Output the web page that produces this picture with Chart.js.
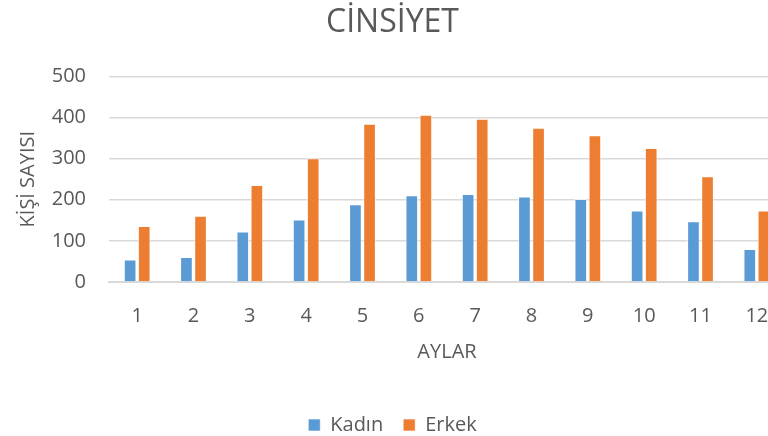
<!DOCTYPE html>
<html><head><meta charset="utf-8">
<script src="https://cdn.jsdelivr.net/npm/chart.js@4/dist/chart.umd.min.js"></script>
<style>
html,body{margin:0;padding:0;background:#fff;overflow:hidden}
#wrap{width:768px;height:436px;overflow:hidden;position:relative}
#box{width:800px;height:445px;position:absolute;left:0;top:0}
</style></head>
<body><div id="wrap"><div id="box"><canvas id="c"></canvas></div></div>
<script>
const months = ["1","2","3","4","5","6","7","8","9","10","11","12"];
const kadin = [55, 61, 123, 152, 189, 211, 214, 208, 202, 174, 148, 80];
const erkek = [136, 161, 236, 301, 385, 407, 397, 375, 357, 326, 257, 174];
const yTicks = [0, 100, 200, 300, 400, 500];
const FONT = "'Open Sans', 'Liberation Sans', sans-serif";
const grey = '#595959';
new Chart(document.getElementById('c'), {
  type: 'bar',
  data: {
    labels: months,
    datasets: [
      {label: 'Kadın', data: kadin, backgroundColor: '#5B9BD5', borderColor: 'rgba(255,255,255,0.6)', borderWidth: 1, categoryPercentage: 0.5, barPercentage: 0.9},
      {label: 'Erkek', data: erkek, backgroundColor: '#ED7D31', borderColor: 'rgba(255,255,255,0.6)', borderWidth: 1, categoryPercentage: 0.5, barPercentage: 0.9}
    ]
  },
  options: {
    responsive: true, maintainAspectRatio: false, animation: false,
    layout: {padding: {left: 0, right: 15, top: 4, bottom: 0}},
    plugins: {
      title: {display: true, text: 'CİNSİYET', color: grey, font: {family: FONT, size: 32, weight: 'normal'}, padding: {top: 0, bottom: 34}},
      legend: {position: 'bottom', labels: {color: grey, font: {family: FONT, size: 20}, boxWidth: 12, boxHeight: 12, padding: 20}},
      tooltip: {enabled: false}
    },
    scales: {
      x: {
        grid: {display: false, drawTicks: false},
        border: {display: true, color: '#d9d9d9', width: 2},
        ticks: {color: grey, font: {family: FONT, size: 20}, padding: 22},
        title: {display: true, text: 'AYLAR', color: grey, font: {family: FONT, size: 20}, padding: {top: 0, bottom: 31}},
        afterFit(s){ s.height = 113; }
      },
      y: {
        min: 0, max: 500,
        afterBuildTicks(s){ s.ticks = yTicks.map(v => ({value: v})); },
        grid: {color: '#d9d9d9', lineWidth: 1.5, drawTicks: false},
        border: {display: false},
        ticks: {color: grey, font: {family: FONT, size: 20}, padding: 23},
        title: {display: true, text: 'KİŞİ SAYISI', color: grey, font: {family: FONT, size: 20}, padding: {top: 16, bottom: 0}},
        afterFit(s){ s.width = 109; }
      }
    }
  }
});
</script></body></html>
